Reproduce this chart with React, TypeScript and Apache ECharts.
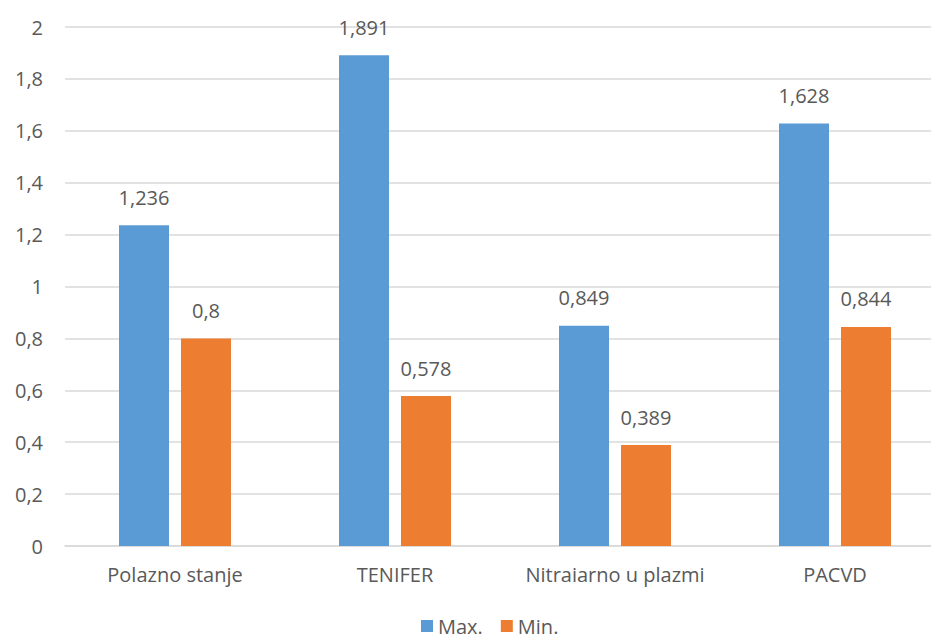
import React, { useEffect, useRef } from "react";
import * as echarts from "echarts";

const categories = ["Polazno stanje", "TENIFER", "Nitraiarno u plazmi", "PACVD"];
const maxValues = [1.236, 1.891, 0.849, 1.628];
const minValues = [0.8, 0.578, 0.389, 0.844];
const seriesNames = ["Max.", "Min."];

const fmt = (v: number) => String(v).replace(".", ",");
const FONT = "'Open Sans', 'Noto Sans', sans-serif";
const TXT = "#595959";
const FS = 20;

export default function App() {
  const ref = useRef<HTMLDivElement>(null);
  useEffect(() => {
    if (!ref.current) return;
    const chart = echarts.init(ref.current, null, { renderer: "svg" });
    const label = {
      show: true,
      position: "top",
      distance: 18,
      color: TXT,
      fontSize: FS,
      fontFamily: FONT,
      formatter: (p: any) => fmt(p.value),
    };
    chart.setOption({
      animation: false,
      backgroundColor: "#ffffff",
      textStyle: { fontFamily: FONT },
      grid: { left: 65, right: 15, top: 27, bottom: 93, containLabel: false },
      legend: {
        top: 611,
        left: 416,
        itemWidth: 12,
        itemHeight: 12,
        itemGap: 18,
        icon: "rect",
        textStyle: { color: TXT, fontSize: FS, fontFamily: FONT },
        data: seriesNames,
      },
      xAxis: {
        type: "category",
        data: categories,
        axisLine: { show: true, lineStyle: { color: "#d9d9d9", width: 1.5 } },
        axisTick: { show: false },
        axisLabel: { color: TXT, fontSize: FS, fontFamily: FONT, margin: 18, interval: 0 },
      },
      yAxis: {
        type: "value",
        min: 0,
        max: 2,
        interval: 0.2,
        axisLine: { show: false },
        axisTick: { show: false },
        splitLine: { lineStyle: { color: "#d9d9d9", width: 1.5 } },
        axisLabel: {
          color: TXT,
          fontSize: FS,
          fontFamily: FONT,
          margin: 22,
          formatter: (v: number) => fmt(Math.round(v * 10) / 10),
        },
      },
      series: [
        {
          name: seriesNames[0],
          type: "bar",
          data: maxValues,
          itemStyle: { color: "#5b9bd5" },
          barWidth: 50,
          barGap: "24%",
          label,
        },
        {
          name: seriesNames[1],
          type: "bar",
          data: minValues,
          itemStyle: { color: "#ed7d31" },
          barWidth: 50,
          barGap: "24%",
          label,
        },
      ],
    });
    return () => chart.dispose();
  }, []);
  return (
    <div
      style={{
        position: "absolute",
        left: 0,
        top: 0,
        width: 931,
        height: 639,
        overflow: "hidden",
        background: "#fff",
      }}
    >
      <div ref={ref} style={{ width: 960, height: 639 }} />
    </div>
  );
}
